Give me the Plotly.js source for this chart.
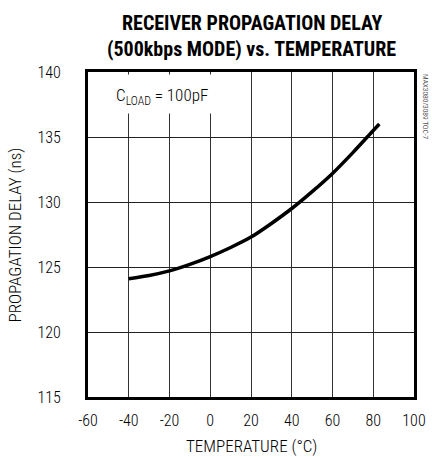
<!DOCTYPE html>
<html>
<head>
<meta charset="utf-8">
<script src="https://cdn.plot.ly/plotly-3.0.1.min.js"></script>
<style>
  html, body { margin: 0; padding: 0; background: #fff; }
  #chart { width: 432px; height: 457px; }
</style>
</head>
<body>
<div id="chart"></div>
<script>
// Receiver propagation delay vs. temperature, C_LOAD = 100pF
const temperatureC = [-40, -30, -20, -10, 0, 10, 20, 30, 40, 50, 60, 70, 80, 83];
const delayNs = [124.1, 124.35, 124.7, 125.2, 125.8, 126.5, 127.3, 128.35, 129.5, 130.8, 132.2, 133.8, 135.5, 136.0];

const xTicks = [-60, -40, -20, 0, 20, 40, 60, 80, 100];
const yTicks = [115, 120, 125, 130, 135, 140];

const titleLines = ['RECEIVER PROPAGATION DELAY', '(500kbps MODE) vs. TEMPERATURE'];
const xTitle = 'TEMPERATURE (°C)';
const yTitle = 'PROPAGATION DELAY (ns)';

const FONT = '"Roboto Condensed", "Liberation Sans Narrow", "Arial Narrow", sans-serif';
const LIGHT = 300;

const trace = {
  x: temperatureC,
  y: delayNs,
  type: 'scatter',
  mode: 'lines',
  line: { color: '#000', width: 3.5, shape: 'spline', smoothing: 0.8 },
  hoverinfo: 'skip'
};

const layout = {
  width: 432,
  height: 457,
  margin: { l: 88, r: 18, t: 72, b: 60 },
  paper_bgcolor: '#fff',
  plot_bgcolor: '#fff',
  showlegend: false,
  font: { family: FONT, color: '#000', size: 16, weight: LIGHT },
  xaxis: {
    range: [-60, 100],
    tickvals: xTicks,
    ticktext: xTicks.map(String),
    ticks: '',
    ticklabelstandoff: 7,
    showgrid: true,
    gridcolor: '#333',
    gridwidth: 1,
    zeroline: false,
    showline: true,
    linecolor: '#000',
    linewidth: 3,
    mirror: true,
    tickfont: { family: FONT, size: 16, weight: LIGHT },
    fixedrange: true
  },
  yaxis: {
    range: [115, 140],
    tickvals: yTicks,
    ticktext: yTicks.map(String),
    ticks: '',
    ticklabelstandoff: 21,
    showgrid: true,
    gridcolor: '#222',
    gridwidth: 1,
    zeroline: false,
    showline: true,
    linecolor: '#000',
    linewidth: 3,
    mirror: true,
    tickfont: { family: FONT, size: 16, weight: LIGHT },
    fixedrange: true
  },
  shapes: [
    // white patch behind the load-capacitance label
    { type: 'rect', xref: 'x', yref: 'y', x0: -49, x1: 0.5, y0: 136.8, y1: 139.8,
      fillcolor: '#fff', line: { width: 0 }, layer: 'above' }
  ],
  annotations: [
    { text: titleLines[0], xref: 'paper', yref: 'paper', x: 0.503, y: 1.151,
      xanchor: 'center', yanchor: 'middle', showarrow: false,
      font: { family: FONT, size: 20, color: '#000', weight: 700 } },
    { text: titleLines[1], xref: 'paper', yref: 'paper', x: 0.503, y: 1.071,
      xanchor: 'center', yanchor: 'middle', showarrow: false,
      font: { family: FONT, size: 20, color: '#000', weight: 700 } },
    { text: xTitle, xref: 'paper', yref: 'paper', x: 0.503, y: -0.151,
      xanchor: 'center', yanchor: 'middle', showarrow: false,
      font: { family: FONT, size: 17, color: '#000', weight: LIGHT } },
    { text: yTitle, xref: 'paper', yref: 'paper', x: -0.224, y: 0.5,
      xanchor: 'center', yanchor: 'middle', textangle: -90, showarrow: false,
      font: { family: FONT, size: 17, color: '#000', weight: LIGHT } },
    { text: 'C<sub>LOAD</sub> = 100pF', xref: 'x', yref: 'y', x: -47, y: 138.1,
      xanchor: 'left', yanchor: 'middle', showarrow: false,
      font: { family: FONT, size: 17, color: '#000', weight: LIGHT } },
    { text: 'MAX3080/3089 TOC-7', xref: 'paper', yref: 'paper', x: 1.0, y: 1.0,
      xshift: 12, xanchor: 'center', yanchor: 'top', textangle: 90, showarrow: false,
      font: { family: FONT, size: 7.5, color: '#000', weight: LIGHT } }
  ]
};

Plotly.newPlot('chart', [trace], layout, { displayModeBar: false, staticPlot: true });
</script>
</body>
</html>
